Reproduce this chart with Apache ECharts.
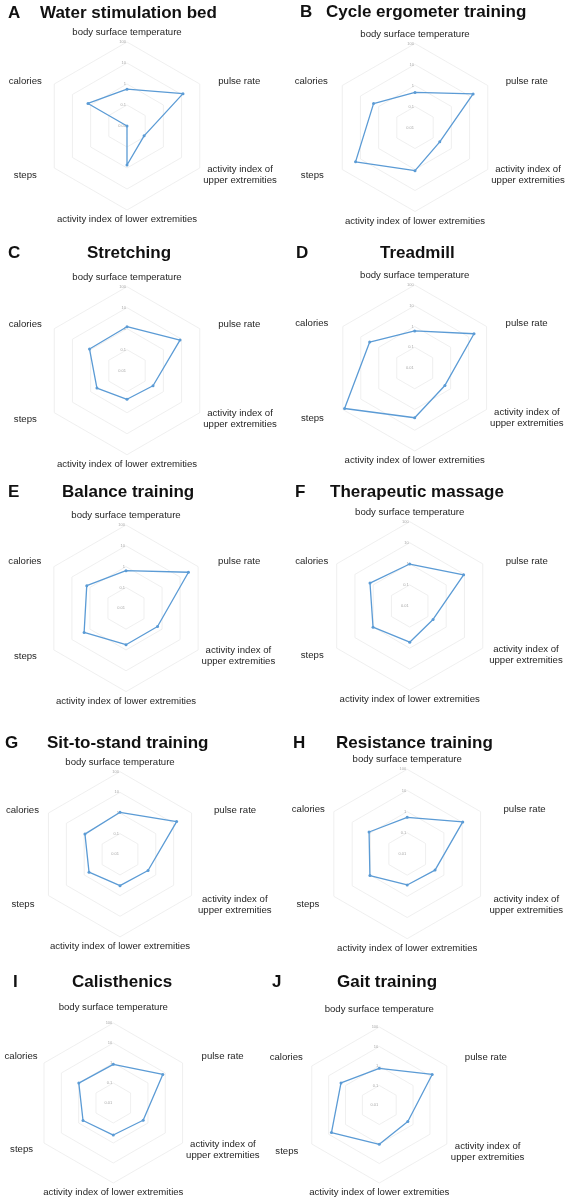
<!DOCTYPE html>
<html>
<head>
<meta charset="utf-8">
<title>Radar charts</title>
<script src="https://cdn.jsdelivr.net/npm/echarts@6/dist/echarts.min.js"></script>
<style>
    html, body {margin: 0; padding: 0; background: #fff;}
    #main {width: 567px; height: 1204px;}
</style>
</head>
<body>
<div id="main"></div>
<script>
// axis order, clockwise from the top
const indicatorNames = [
    'body surface temperature',
    'pulse rate',
    'activity index of upper extremities',
    'activity index of lower extremities',
    'steps',
    'calories'
];
const tickValues = [0.01, 0.1, 1, 10, 100];

const panelLetters = ['A', 'B', 'C', 'D', 'E', 'F', 'G', 'H', 'I', 'J'];
const panelTitles = [
    'Water stimulation bed', 'Cycle ergometer training', 'Stretching', 'Treadmill',
    'Balance training', 'Therapeutic massage', 'Sit-to-stand training', 'Resistance training',
    'Calisthenics', 'Gait training'
];

// values per panel, same order as indicatorNames
const waterStimulationBed = [0.57, 12, 0.087, 0.72, 0.01, 1.4];
const cycleErgometerTraining = [0.47, 15.7, 0.23, 1.14, 18.6, 1.9];
const stretching = [1.24, 8.2, 0.27, 0.23, 0.45, 1.15];
const treadmill = [0.61, 20, 0.48, 2.5, 80, 3.2];
const balanceTraining = [0.64, 29, 0.56, 0.56, 2.1, 1.5];
const therapeuticMassage = [0.98, 9.0, 0.19, 0.52, 1.02, 1.5];
const sitToStandTraining = [1.08, 14.7, 0.37, 0.33, 0.54, 0.91];
const resistanceTraining = [0.54, 10.7, 0.33, 0.29, 1.08, 1.2];
const calisthenics = [0.86, 7.2, 0.53, 0.40, 0.56, 0.98];
const gaitTraining = [0.76, 13.5, 0.49, 1.04, 6.8, 1.85];

const panelValues = [
    waterStimulationBed, cycleErgometerTraining, stretching, treadmill, balanceTraining,
    therapeuticMassage, sitToStandTraining, resistanceTraining, calisthenics, gaitTraining
];

// layout: radar center x, center y, radius
const radarLayout = [
    [127, 126, 84], [415, 127.5, 84],
    [127, 370.7, 84], [414.7, 368, 83],
    [126, 608.3, 83.3], [409.7, 606, 84.3],
    [120, 854.3, 82.6], [407.2, 854, 84.7],
    [113.3, 1103, 80], [379.3, 1105, 78]
];
const letterLeft = [8, 300, 8, 296, 8, 295, 5, 293, 13, 272];
const titleLeft = [40, 326, 87, 380, 62, 330, 47, 336, 72, 337];
const titleTop = [4.5, 4, 244.5, 244.5, 483.5, 483.5, 734.5, 734.5, 973.5, 973.5];

// axis name nudges (px) per panel
const caloriesShiftX = [-9, -11, -9, -11, -9, -5, -6, -5.5, -3, -5.5];
const stepsShiftX = [-14, -15, -14, -15.5, -13.5, -9.5, -10.5, -11, -7.5, -10];
const pulseShiftX = [15, 14.5, 15, 15.5, 16.5, 19.5, 19, 19.5, 15.5, 14.5];
const upperShiftX = [0, 0, 0, 0, 0, 3, 3, 5.5, 0, 0.5];
const upperSideShiftY = [-1, -2.5, -2.5, -1, -3.5, -1, -1, 0, -5, -6.5];
const lowerSideShiftY = [5, 3.5, 4.5, 6.5, 4, 5, 7, 6, 4.5, 5.5];
const topNameUp = [0, 0, 0, 0, 0, 0, 0, 0, 6, 8];

const fontFamily = '"Liberation Sans", Arial, sans-serif';
const lineColor = '#5b9bd5';

// echarts lays radar indicators out counter-clockwise, so reverse the tail
const drawOrder = [0, 5, 4, 3, 2, 1];
const logMin = Math.log10(tickValues[0]);
const logMax = Math.log10(tickValues[tickValues.length - 1]);

const formatTick = (v) => String(Number(Math.pow(10, v).toPrecision(3)));

const nameFont = {fontSize: 9.6, lineHeight: 11, color: '#262626', fontFamily: fontFamily};
const spacer = (h) => ({fontSize: 1, lineHeight: Math.max(h, 0.01), color: 'transparent'});

// spacer lines above/below move a middle-aligned label down/up
const withShiftY = (line, dy) => {
    if (dy > 0) return '{gv| }\n' + line;
    if (dy < 0) return line + '\n{gv| }';
    return line;
};

const makeNameFormatter = (i) => (name) => {
    const up = upperSideShiftY[i];
    const low = lowerSideShiftY[i];
    switch (name) {
        case 'body surface temperature':
            return topNameUp[i] > 0 ? '{t|' + name + '}\n{gt| }' : '{t|' + name + '}';
        case 'pulse rate':
            return up < 0 ? '{p|' + name + '}\n{gu| }' : (up > 0 ? '{gu| }\n{p|' + name + '}' : '{p|' + name + '}');
        case 'calories':
            return up < 0 ? '{c|' + name + '}\n{gu| }' : (up > 0 ? '{gu| }\n{c|' + name + '}' : '{c|' + name + '}');
        case 'steps':
            return low > 0 ? '{gl| }\n{s|' + name + '}' : '{s|' + name + '}';
        case 'activity index of upper extremities':
            return (low > 0 ? '{gl| }\n' : '') + '{u|activity index of}\n{u|upper extremities}';
        default:
            return '{l|' + name + '}';
    }
};

const titles = [];
const radars = [];
const series = [];

panelTitles.forEach((title, i) => {
    titles.push({
        text: panelLetters[i],
        left: letterLeft[i],
        top: titleTop[i],
        padding: 0,
        textStyle: {fontSize: 17, fontWeight: 'bold', color: '#111', fontFamily: fontFamily}
    });
    titles.push({
        text: title,
        left: titleLeft[i],
        top: titleTop[i],
        padding: 0,
        textStyle: {fontSize: 17, fontWeight: 'bold', color: '#111', fontFamily: fontFamily}
    });

    const [cx, cy, r] = radarLayout[i];
    radars.push({
        center: [cx, cy],
        radius: r,
        startAngle: 90,
        shape: 'polygon',
        splitNumber: tickValues.length - 1,
        axisNameGap: 4,
        indicator: drawOrder.map((k, j) => {
            const ind = {name: indicatorNames[k], min: logMin, max: logMax};
            if (j === 0) {
                ind.axisLabel = {show: true};
            }
            return ind;
        }),
        axisName: {
            formatter: makeNameFormatter(i),
            rich: {
                t: nameFont,
                l: nameFont,
                p: Object.assign({}, nameFont, {padding: [0, 0, 0, pulseShiftX[i]]}),
                c: Object.assign({}, nameFont, {padding: [0, -caloriesShiftX[i], 0, 0]}),
                s: Object.assign({}, nameFont, {padding: [0, -stepsShiftX[i], 0, 0]}),
                u: Object.assign({}, nameFont, {align: 'center', padding: [0, 0, 0, upperShiftX[i]]}),
                gt: spacer(topNameUp[i]),
                gu: spacer(2 * Math.abs(upperSideShiftY[i])),
                gl: spacer(2 * lowerSideShiftY[i])
            }
        },
        axisLine: {show: false},
        axisTick: {show: false},
        axisLabel: {
            show: false,
            fontSize: 4,
            color: '#a8a8a8',
            margin: 1,
            fontFamily: fontFamily,
            formatter: formatTick
        },
        splitLine: {lineStyle: {color: '#ebebeb', width: 0.8}},
        splitArea: {show: false}
    });

    series.push({
        type: 'radar',
        radarIndex: i,
        symbol: 'circle',
        symbolSize: 3,
        lineStyle: {color: lineColor, width: 1.3},
        itemStyle: {color: lineColor},
        silent: true,
        data: [{value: drawOrder.map(k => Math.log10(panelValues[i][k]))}]
    });
});

const myChart = echarts.init(document.getElementById('main'), null, {renderer: 'canvas'});
myChart.setOption({
    animation: false,
    backgroundColor: '#fff',
    title: titles,
    radar: radars,
    series: series
});
</script>
</body>
</html>
